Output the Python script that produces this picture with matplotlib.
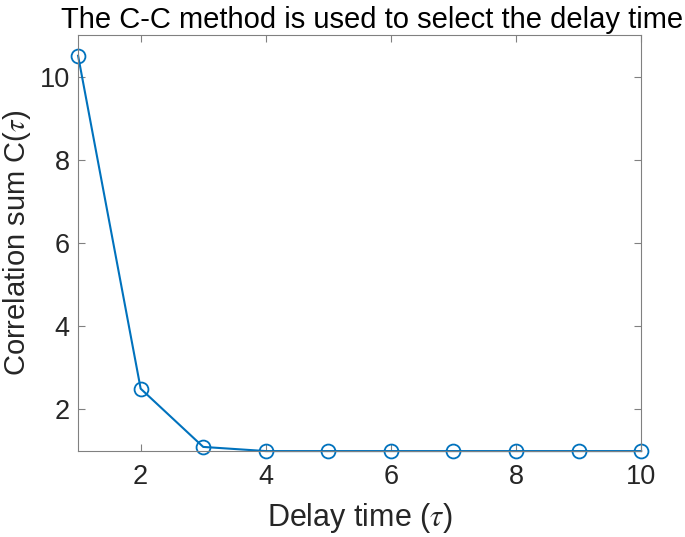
import matplotlib
matplotlib.use("Agg")
import matplotlib.pyplot as plt

# Delay time values and correlation sums
delay = [1, 2, 3, 4, 5, 6, 7, 8, 9, 10]
corr_sum = [10.5, 2.5, 1.1, 1.0, 1.0, 1.0, 1.0, 1.0, 1.0, 1.0]

plt.rcParams['font.family'] = ['Liberation Sans', 'DejaVu Sans']
plt.rcParams['mathtext.fontset'] = 'stix'

fig = plt.figure(figsize=(6.85, 5.37), dpi=100)
ax = fig.add_axes([0.114, 0.160, 0.822, 0.775])

ax.plot(delay, corr_sum, color='#0072BD', linewidth=1.5, marker='o',
        markersize=10, markerfacecolor='none', markeredgewidth=1.3, clip_on=False)

ax.set_xlim(1, 10)
ax.set_ylim(1, 11)
ax.set_xticks([2, 4, 6, 8, 10])
ax.set_yticks([2, 4, 6, 8, 10])

gray = '#262626'
for s in ax.spines.values():
    s.set_color('#808080')
    s.set_linewidth(0.8)
ax.tick_params(direction='in', top=True, right=True, length=5, width=0.8,
               color='#808080', labelcolor=gray, labelsize=19.5)
ax.tick_params(axis='x', pad=9)
ax.tick_params(axis='y', pad=6)

ax.set_xlabel(r'Delay time ($\tau$)', fontsize=22, color=gray, labelpad=8)
ax.set_ylabel(r'Correlation sum C($\tau$)', fontsize=21, color=gray, labelpad=5)
ax.set_title('The C-C method is used to select the delay time', fontsize=21,
             color='black', pad=5, x=0.522)

fig.savefig('out.png', dpi=100)
